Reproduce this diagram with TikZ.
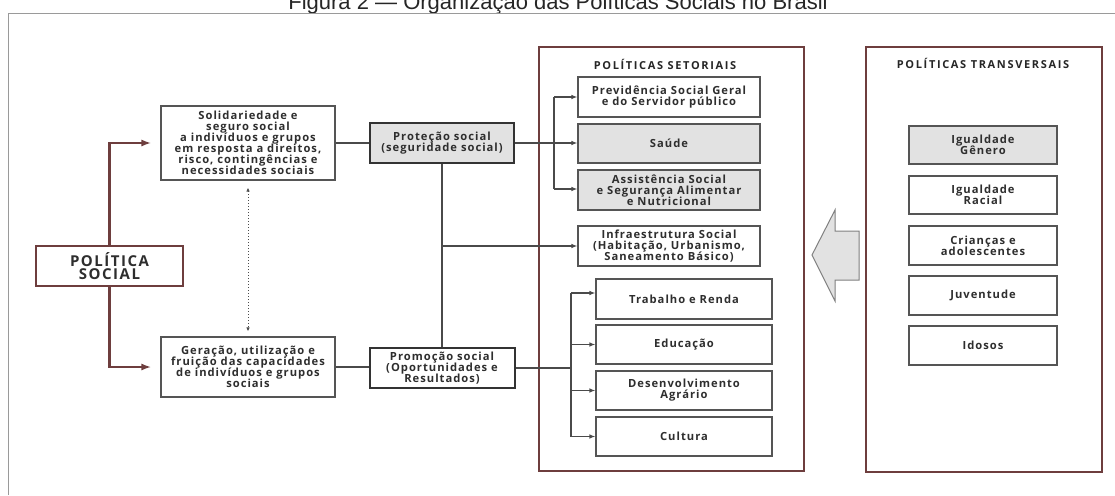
\documentclass[tikz,border=0pt]{standalone}
\usepackage{fontspec}
\usetikzlibrary{arrows.meta,calc}
\newfontfamily\bxfont[LetterSpace=9]{Open Sans}
\newfontfamily\hdfont[LetterSpace=15]{Open Sans}
\newfontfamily\psfont[LetterSpace=10]{Open Sans}
\newfontfamily\ttlfont{Liberation Sans}
\definecolor{txt}{HTML}{2E2E2E}
\definecolor{bord}{HTML}{555555}
\definecolor{conncol}{HTML}{4A4A4A}
\definecolor{maroonc}{HTML}{6E3E3E}
\definecolor{framec}{HTML}{9A9A9A}
\definecolor{boxfill}{HTML}{E2E2E2}
\newcommand\tightlines{\lineskiplimit=-30pt\relax}
\begin{document}
\tightlines
\begin{tikzpicture}[x=1pt,y=-1pt,
  box/.style={draw=bord,line width=1.1pt,fill=white,text=txt,align=center,inner sep=0pt,
    font=\bxfont\bfseries\fontsize{11.2}{10.9}\selectfont\tightlines},
  graybox/.style={box,fill=boxfill},
  keybox/.style={box,draw=black!80,line width=2pt},
  panel/.style={draw=maroonc,line width=2pt,fill=white,inner sep=0pt},
  hd/.style={text=black!85,inner sep=0pt,font=\hdfont\bfseries\fontsize{11}{11}\selectfont},
  conn/.style={draw=conncol,line width=1.1pt},
  arr/.style={conn,-{Latex[length=6pt,width=4.5pt]}},
  brownarr/.style={draw=maroonc,line width=2.2pt,-{Latex[length=10pt,width=7pt]}},
  dotarr/.style={draw=black!70,line width=1pt,dotted,
    {Latex[length=4pt,width=3.5pt]}-{Latex[length=4pt,width=3.5pt]}},
]
\useasboundingbox (0,0) rectangle (1115,495);
\fill[white] (0,0) rectangle (1115,495);

% title and frame
\node[font=\ttlfont\fontsize{22}{22}\selectfont,text=black!85,anchor=base,inner sep=0pt] (title) at (558,10)
  {Figura 2 — Organização das Políticas Sociais no Brasil};
\draw[draw=framec,line width=1pt] (8,495) -- (8,14) -- (1115,14);

% panels
\node[panel,minimum width=265,minimum height=424] (setp) at (671.5,259) {};
\node[panel,minimum width=236,minimum height=425] (trap) at (984,259.5) {};
\node[hd] (setT) at (665,64) {POLÍTICAS SETORIAIS};
\node[hd] (traT) at (983,63) {POLÍTICAS TRANSVERSAIS};

% left side
\node[box,draw=maroonc,line width=1.5pt,minimum width=147,minimum height=40,
  font=\psfont\bfseries\fontsize{15}{13.5}\selectfont\tightlines] (ps) at (109.5,266) {POLÍTICA\\SOCIAL};
\node[box,minimum width=174,minimum height=74] (sol) at (248,143)
  {Solidariedade e\\seguro social\\a indivíduos e grupos\\em resposta a direitos,\\risco, contingências e\\necessidades sociais};
\node[box,minimum width=174,minimum height=60] (ger) at (248,367)
  {Geração, utilização e\\fruição das capacidades\\de indivíduos e grupos\\sociais};
\node[keybox,fill=boxfill,minimum width=144,minimum height=40] (prot) at (442,143)
  {Proteção social\\(seguridade social)};
\node[keybox,minimum width=145,minimum height=40] (prom) at (442,368)
  {Promoção social\\(Oportunidades e\\Resultados)};

% setoriais
\node[box,minimum width=182,minimum height=40] (prev) at (669,97)
  {Previdência Social Geral\\e do Servidor público};
\node[graybox,minimum width=182,minimum height=39] (saude) at (669,143.5) {Saúde};
\node[graybox,minimum width=182,minimum height=40] (assist) at (669,190)
  {Assistência Social\\e Segurança Alimentar\\e Nutricional};
\node[box,minimum width=182,minimum height=40] (infra) at (669,246)
  {Infraestrutura Social\\(Habitação, Urbanismo,\\Saneamento Básico)};
\node[box,minimum width=176,minimum height=40] (trab) at (684,299) {Trabalho e Renda};
\node[box,minimum width=176,minimum height=39] (educ) at (684,344.5) {Educação};
\node[box,minimum width=176,minimum height=39] (desv) at (684,390.5) {Desenvolvimento\\Agrário};
\node[box,minimum width=176,minimum height=39] (cult) at (684,436.5) {Cultura};

% transversais
\node[graybox,minimum width=148,minimum height=38] (igg) at (983,145) {Igualdade\\Gênero};
\node[box,minimum width=148,minimum height=38] (igr) at (983,195) {Igualdade\\Racial};
\node[box,minimum width=148,minimum height=39] (cri) at (983,245.5) {Crianças e\\adolescentes};
\node[box,minimum width=148,minimum height=39] (juv) at (983,295.5) {Juventude};
\node[box,minimum width=148,minimum height=39] (ido) at (983,345.5) {Idosos};

% big hollow arrow
\draw[fill=boxfill,draw=black!50,line width=1pt]
  (812,255) -- (835,210) -- (835,231) -- (859,231) -- (859,280) -- (835,280) -- (835,301) -- cycle;

% connectors
\draw[brownarr,shorten >=9pt] (ps.north) |- (sol.west);
\draw[brownarr,shorten >=9pt] (ps.south) |- (ger.west);
\draw[dotarr,shorten <=7pt,shorten >=5pt] (sol.south) -- (ger.north);
\draw[conn] (sol.east) -- (sol.east -| prot.west);
\draw[conn] (ger.east) -- (ger.east -| prom.west);
\draw[conn] (prot.south) -- (prot.south |- prom.north);
\coordinate (br) at (prot.south |- infra.west);
\draw[arr] (br) -- (infra.west);
\draw[arr] (prot.east) -- (prot.east -| saude.west);
% upper bracket
\coordinate (ub) at (554,0);
\draw[conn] (prev.west -| ub) -- ($(assist.west -| ub)+(0,-1)$);
\draw[arr] (prev.west -| ub) -- (prev.west);
\draw[arr] ($(assist.west -| ub)+(0,-1)$) -- ($(assist.west)+(0,-1)$);
% lower bracket
\coordinate (lb) at (571,0);
\coordinate (lbt) at ($(trab.west -| lb)+(0,-6)$);
\draw[conn] (prom.east) -- (prom.east -| lb);
\draw[conn] (lbt) -- (cult.west -| lb);
\draw[arr] (lbt) -- ($(trab.west)+(0,-6)$);
\draw[arr] (educ.west -| lb) -- (educ.west);
\draw[arr] (desv.west -| lb) -- (desv.west);
\draw[arr] (cult.west -| lb) -- (cult.west);
\end{tikzpicture}
\end{document}
